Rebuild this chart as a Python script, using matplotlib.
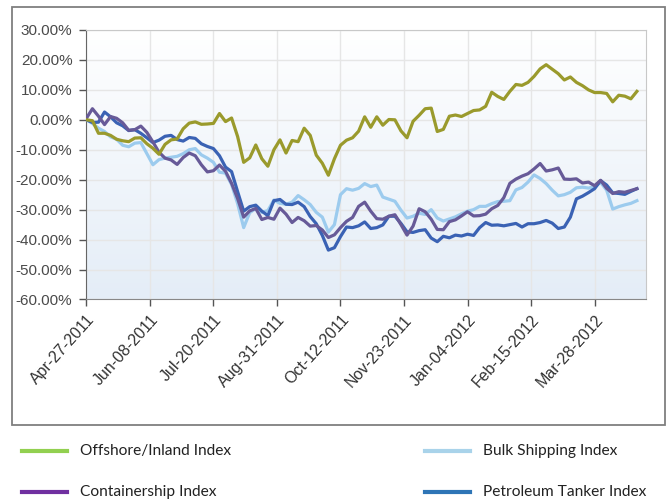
import numpy as np
import pandas as pd
import matplotlib
matplotlib.use("Agg")
import matplotlib.pyplot as plt
import matplotlib.dates as mdates
from matplotlib.colors import LinearSegmentedColormap
from matplotlib.lines import Line2D
from matplotlib.patches import Rectangle

# index returns in %, one reading every 4 days from Apr-27-2011
offshore = [0, -0.3, -4.5, -4.5, -5.2, -6.5, -7, -7.3, -6.1, -6, -8, -9.5, -11.5, -8.2,
            -6.7, -6.4, -3, -1.1, -0.7, -1.5, -1.4, -1.2, 2.1, -0.6, 0.6, -5.6, -14.2,
            -12.7, -8.4, -13, -15.5, -10, -6.7, -11.1, -6.9, -7.3, -2.8, -5.2, -11.8,
            -14.5, -18.5, -13, -8.5, -6.8, -6, -3.8, 1, -2.5, 1, -1.8, 0.1, 0, -3.7, -6,
            -0.5, 1.5, 3.7, 3.9, -3.9, -3.2, 1.2, 1.6, 1.1, 2.1, 3.1, 3.3, 4.5, 9.2, 7.8,
            6.8, 9.5, 11.8, 11.5, 12.5, 14.5, 17, 18.4, 16.9, 15.4, 13.3, 14.3, 12.5,
            11.4, 10, 9.1, 9.1, 8.8, 6, 8.2, 7.9, 7, 9.5]
bulk = [0, -1.2, -2.8, -3.9, -5.7, -6.5, -8.5, -9, -7.8, -7.6, -11.3, -15, -13.3, -12.8,
        -12.5, -12.2, -11.3, -10, -9.6, -11.7, -12.8, -14.2, -17.5, -17.8, -21.6, -28,
        -36, -31, -29.6, -30.9, -30.3, -26.8, -27.9, -28.2, -27.5, -25.3, -26.7, -28.3,
        -30.9, -32.5, -37.5, -35, -25, -23, -23.5, -22.9, -21.3, -22.3, -21.8, -25.8,
        -26.5, -27.2, -30.2, -32.8, -32.2, -31.2, -31.6, -30, -32.8, -33.8, -33.1,
        -32.4, -31.4, -30.5, -30, -28.9, -28.9, -28, -27.3, -27.2, -27, -23.4, -22.6,
        -20.8, -18.4, -19.6, -21.3, -23.5, -25.4, -25, -24.2, -22.7, -22.5, -22.8,
        -22.3, -20.9, -23.5, -29.8, -29, -28.4, -27.9, -27]
container = [0.5, 3.7, 1.2, -1.6, 1.1, 0.5, -1, -3.5, -3.3, -2.1, -4.2, -7.4, -10.8,
             -12.8, -13.4, -14.9, -12.6, -11.1, -12, -15, -17.4, -17, -15.1, -17.2,
             -21.2, -26.3, -32.5, -30.4, -29.6, -33.3, -32.6, -33.2, -29.5, -31.5,
             -34.3, -32.6, -33.7, -35.5, -35.3, -36.8, -39.3, -38.4, -36, -33.9, -32.6,
             -28.9, -27.5, -30.5, -33, -33.2, -32.2, -31.7, -35, -38.5, -35.5, -29.7,
             -30.7, -33.2, -36.6, -36.7, -34, -33.4, -32.1, -30.7, -32.1, -32, -31.5,
             -29.7, -28.6, -26, -21.2, -19.8, -18.8, -18, -16.4, -14.6, -17.1, -16.7,
             -16.1, -19.8, -19.9, -19.7, -21.1, -20.8, -22, -20.2, -22.9, -24.6, -24,
             -24.2, -23.6, -23]
petroleum = [0, -0.9, -0.8, 2.6, 1, -1, -2, -3.6, -3.3, -4.5, -6, -7.6, -6.8, -5.5,
             -5.2, -6.6, -7.1, -5.9, -6.2, -8, -8.9, -9.6, -12, -15.8, -17.3, -24,
             -30.5, -29, -28.5, -30.5, -32, -27, -26.6, -28.2, -28.3, -27.5, -29, -32.3,
             -34.7, -38.6, -43.5, -42.7, -39, -35.8, -36, -35.4, -34.1, -36.3, -36,
             -35.1, -32.2, -32.2, -34.6, -37.4, -37.6, -37, -36.7, -39.5, -40.7, -38.9,
             -39.4, -38.5, -38.8, -38.2, -38.6, -36, -34.3, -35.2, -35.1, -35.4, -35,
             -34.6, -35.8, -34.7, -34.7, -34.3, -33.6, -34.5, -36.3, -35.8, -32.5,
             -26.4, -25.5, -24.3, -23, -20.3, -21.8, -24.4, -24.6, -24.9, -23.9, -23]

dates = pd.date_range("2011-04-27", periods=len(offshore), freq="4D")
tick_dates = pd.date_range("2011-04-27", periods=9, freq="42D")

fig = plt.figure(figsize=(6.67, 5.01), dpi=100)
ax = fig.add_axes([0.1295, 0.4022, 0.839, 0.538])

# soft gradient behind the plot
grad = LinearSegmentedColormap.from_list("bg", ["#e4edf7", "#ffffff"])
ax.imshow(np.linspace(0, 1, 256).reshape(-1, 1), cmap=grad, origin="lower",
          extent=[0, 1, 0, 1], transform=ax.transAxes, aspect="auto", zorder=0)

ax.plot(dates, bulk, color="#9ccbee", lw=2.3, zorder=3)
ax.plot(dates, petroleum, color="#3a62b4", lw=2.3, zorder=4)
ax.plot(dates, container, color="#675a98", lw=2.3, zorder=5)
ax.plot(dates, offshore, color="#9a9a2c", lw=2.3, zorder=6)

ax.set_xlim(pd.Timestamp("2011-04-27"), pd.Timestamp("2012-05-01"))
ax.set_ylim(-60, 30)
ax.set_yticks(np.arange(-60, 31, 10))
ax.yaxis.set_major_formatter(plt.FuncFormatter(lambda v, p: "%.2f%%" % v))
ax.set_xticks(tick_dates)
ax.xaxis.set_major_formatter(mdates.DateFormatter("%b-%d-%Y"))

ax.grid(True, color="#e6e6e6", lw=1)
ax.set_axisbelow(True)
for lab in ax.get_yticklabels():
    lab.set_fontfamily("Liberation Sans")
    lab.set_fontsize(11)
    lab.set_color("#4a4a4a")
for lab in ax.get_xticklabels():
    lab.set_fontfamily("Liberation Sans")
    lab.set_fontsize(11.5)
    lab.set_color("#333333")
    lab.set_rotation(48)
    lab.set_ha("right")
    lab.set_rotation_mode("anchor")
ax.tick_params(axis="both", length=5, color="#555555", width=1)
ax.tick_params(axis="y", pad=5)
ax.tick_params(axis="x", pad=4)
ax.spines["left"].set_color("#666666")
ax.spines["bottom"].set_color("#888888")
ax.spines["top"].set_color("#c8c8c8")
ax.spines["right"].set_color("#c8c8c8")

# outer frame around the chart
fig.add_artist(Rectangle((12 / 667, 1 - 425 / 501), 653 / 667, 418 / 501,
                         transform=fig.transFigure, fill=False,
                         edgecolor="#7f7f7f", lw=1.3))

# legend drawn below the frame
legend_items = [("Offshore/Inland Index", "#92d050", 22, 451),
                ("Bulk Shipping Index", "#a9d3ea", 425, 451),
                ("Containership Index", "#7030a0", 22, 492),
                ("Petroleum Tanker Index", "#2e75b6", 425, 492)]
for name, col, x0, y0 in legend_items:
    yf = 1 - y0 / 501
    fig.add_artist(Line2D([x0 / 667, (x0 + 45) / 667], [yf, yf],
                          transform=fig.transFigure, color=col, lw=3))
    fig.text((x0 + 58) / 667, yf, name, fontsize=11.2, family="Lato",
             color="#222222", va="center")

fig.savefig("out.png", dpi=100)
